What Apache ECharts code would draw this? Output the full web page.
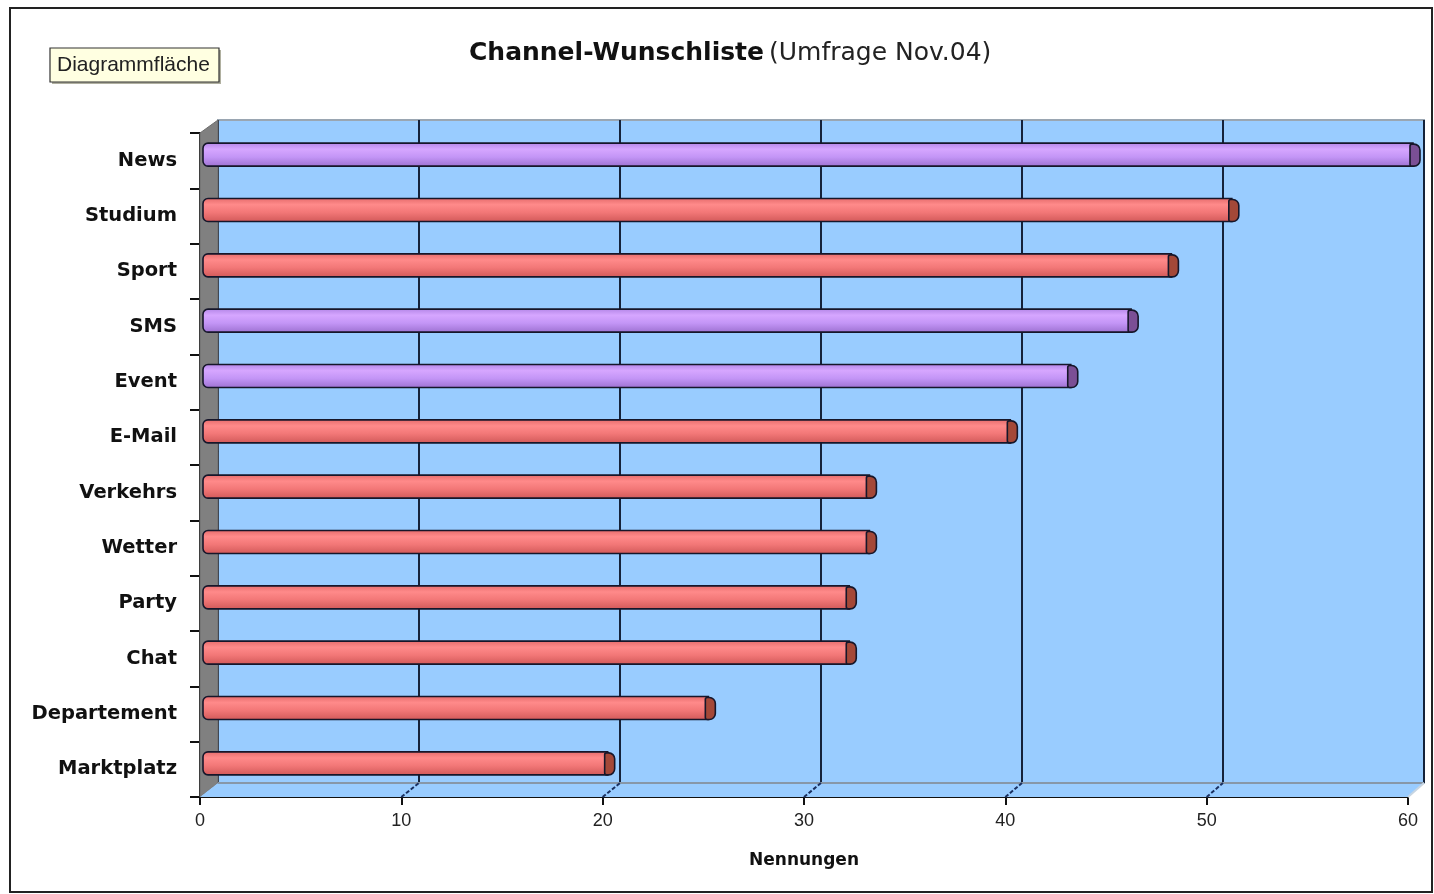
<!DOCTYPE html>
<html>
<head>
<meta charset="utf-8">
<script src="https://cdn.jsdelivr.net/npm/echarts@6/dist/echarts.min.js"></script>
<style>
html,body{margin:0;padding:0;background:#fff;}
#chart{width:1434px;height:894px;}
</style>
</head>
<body>
<div id="chart"></div>
<script>
// ---- data ----
const categories = ['News','Studium','Sport','SMS','Event','E-Mail','Verkehrs','Wetter','Party','Chat','Departement','Marktplatz'];
const values = [60, 51, 48, 46, 43, 40, 33, 33, 32, 32, 25, 20];
const purpleCategories = ['News','SMS','Event'];
const xMin = 0, xMax = 60, xStep = 10;
const titleMain = 'Channel-Wunschliste';
const titleSub = '(Umfrage Nov.04)';
const axisName = 'Nennungen';
const badgeText = 'Diagrammfläche';

// ---- layout constants ----
const W = 1434, H = 894;
const front = {l:200, t:133, r:1408, b:797};
const back  = {l:218, t:120, r:1424, b:783};

const chart = echarts.init(document.getElementById('chart'), null, {renderer:'canvas'});

const barData = categories.map((c, i) => [values[i], i, purpleCategories.includes(c) ? 1 : 0]);

const palette = {
  purple: {stops:[[0,'#b184e6'],[0.28,'#d6a6ff'],[0.6,'#c395f6'],[1,'#9c70d0']], cap:'#7b4f95'},
  red:    {stops:[[0,'#e46a6a'],[0.28,'#ff8a8a'],[0.6,'#f27777'],[1,'#d05858']], cap:'#a44838'}
};

const option = {
  animation: false,
  backgroundColor: '#ffffff',
  title: {
    text: '{b|' + titleMain + '} {r|' + titleSub + '}',
    left: 464, top: 36,
    textStyle: {
      rich: {
        b: {fontFamily:'DejaVu Sans', fontWeight:'bold', fontSize:25, color:'#111'},
        r: {fontFamily:'DejaVu Sans', fontWeight:'normal', fontSize:25, color:'#222'}
      }
    }
  },
  grid: [
    {left: front.l, top: front.t, right: W - front.r, bottom: H - front.b, show:false},
    {left: back.l, top: back.t, right: W - back.r, bottom: H - back.b, show:true,
     backgroundColor:'#99ccff', borderColor:'#9aa6b2', borderWidth:2, z:0}
  ],
  xAxis: [
    {
      gridIndex:0, type:'value', min:xMin, max:xMax, interval:xStep,
      axisLine:{show:true, lineStyle:{color:'#111', width:2}},
      axisTick:{show:true, length:8, lineStyle:{color:'#111', width:2}},
      axisLabel:{show:true, margin:15, fontFamily:'Liberation Sans', fontSize:18, color:'#222'},
      splitLine:{show:false},
      name: axisName, nameLocation:'middle', nameGap:55,
      nameTextStyle:{fontFamily:'DejaVu Sans', fontWeight:'bold', fontSize:17, color:'#111'}
    },
    {
      gridIndex:1, type:'value', min:xMin, max:xMax, interval:xStep,
      axisLine:{show:false}, axisTick:{show:false}, axisLabel:{show:false},
      splitLine:{show:true, lineStyle:{color:'#15223a', width:2}}
    }
  ],
  yAxis: [
    {
      gridIndex:0, type:'category', data:categories, inverse:true,
      axisLine:{show:true, lineStyle:{color:'#111', width:2}},
      axisTick:{show:true, length:10, lineStyle:{color:'#111', width:2}},
      axisLabel:{margin:23, fontFamily:'DejaVu Sans', fontWeight:'bold', fontSize:19.5, color:'#111'},
      splitLine:{show:false}
    },
    {
      gridIndex:1, type:'value', show:false, splitLine:{show:false}
    }
  ],
  series: [{
    type:'custom',
    xAxisIndex:0, yAxisIndex:0,
    z: 5,
    encode:{x:0, y:1},
    data: barData,
    renderItem: function(params, api){
      const v = api.value(0), idx = api.value(1), isPurple = api.value(2) === 1;
      const p0 = api.coord([0, idx]);
      const p1 = api.coord([v, idx]);
      const h = 23;
      const yTop = p0[1] - 6 - h/2;
      const x0 = p0[0] + 3, x1 = p1[0] + 5;
      const pal = isPurple ? palette.purple : palette.red;
      return {
        type:'group',
        children:[
          {type:'rect', shape:{x:x0, y:yTop, width:x1 - x0, height:h, r:[5,0,0,5]},
           style:{fill:{type:'linear', x:0, y:0, x2:0, y2:1,
             colorStops: pal.stops.map(s => ({offset:s[0], color:s[1]}))},
             stroke:'#16162a', lineWidth:1.6}},
          {type:'rect', shape:{x:x1 - 3, y:yTop + 1, width:10, height:h - 1, r:[2,6,6,2]},
           style:{fill:pal.cap, stroke:'#16162a', lineWidth:1.6}}
        ]
      };
    }
  }]
};

chart.setOption(option);

// ---- 3D decorations (walls, floor) computed from the axes ----
const deco = [];
// frame
deco.push({type:'rect', shape:{x:10, y:8, width:W - 12, height:H - 10},
  style:{fill:null, stroke:'#222', lineWidth:2}, z:0, silent:true});
// badge
deco.push({type:'rect', shape:{x:52, y:50, width:169, height:34},
  style:{fill:'#b0b0a0'}, z:10, silent:true});
deco.push({type:'rect', shape:{x:50, y:48, width:169, height:34},
  style:{fill:'#ffffe1', stroke:'#333', lineWidth:1.2}, z:11, silent:true});
deco.push({type:'text', x:57, y:65, z:12, silent:true,
  style:{text:badgeText, fontFamily:'Liberation Sans', fontSize:21, fill:'#222', verticalAlign:'middle'}});
// left wall (gray)
deco.push({type:'polygon', z:1, silent:true,
  shape:{points:[[front.l, front.t],[back.l, back.t],[back.l, back.b],[front.l, front.b]]},
  style:{fill:'#808080', stroke:'#6d6d6d', lineWidth:1}});
// floor
deco.push({type:'polygon', z:1, silent:true,
  shape:{points:[[front.l, front.b],[front.r, front.b],[back.r, back.b],[back.l, back.b]]},
  style:{fill:'#99ccff'}});
deco.push({type:'line', z:1, silent:true,
  shape:{x1:back.l, y1:back.b, x2:back.r, y2:back.b}, style:{stroke:'#8797a8', lineWidth:2}});
deco.push({type:'line', z:1, silent:true,
  shape:{x1:front.r, y1:front.b, x2:back.r, y2:back.b}, style:{stroke:'#c7d5e2', lineWidth:2}});
// diagonal floor lines from front ticks to back gridlines
for (let k = xMin + xStep; k < xMax; k += xStep) {
  const fx = chart.convertToPixel({xAxisIndex:0}, k);
  const bx = chart.convertToPixel({xAxisIndex:1}, k);
  deco.push({type:'line', z:1, silent:true,
    shape:{x1:fx, y1:front.b, x2:bx, y2:back.b},
    style:{stroke:'#1a3060', lineWidth:2, lineDash:[4,2]}});
}
chart.setOption({graphic: deco});
</script>
</body>
</html>
